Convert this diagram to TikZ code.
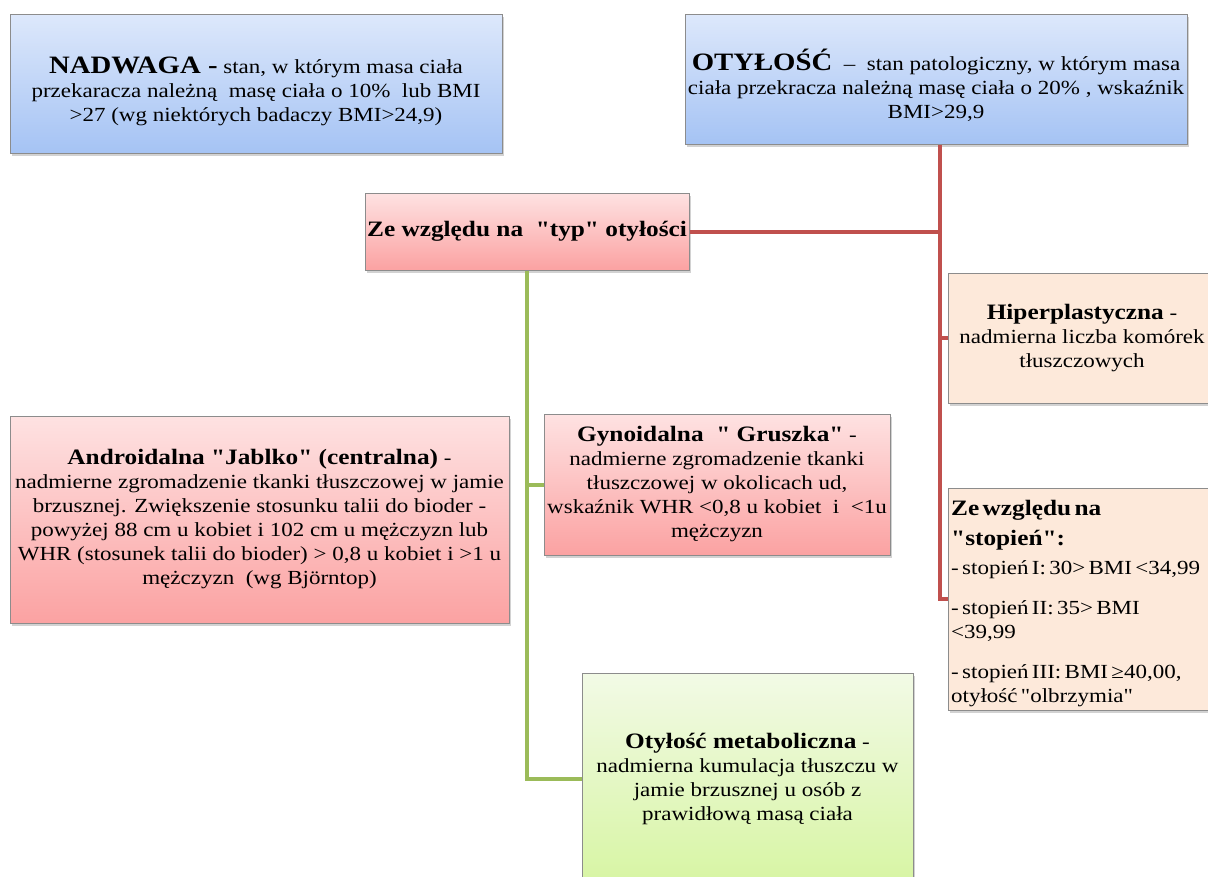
\documentclass[tikz,border=0pt]{standalone}
\usepackage{fontspec}
\setmainfont[FakeStretch=1.15,Ligatures=TeXOff]{Liberation Serif}
\usetikzlibrary{shadows}
\definecolor{bluetop}{HTML}{DDE8FB}
\definecolor{bluebot}{HTML}{A5C3F4}
\definecolor{pinktop}{HTML}{FEE2E2}
\definecolor{pinkbot}{HTML}{FBA2A2}
\definecolor{peach}{HTML}{FDE9DA}
\definecolor{greentop}{HTML}{F2FAE6}
\definecolor{greenbot}{HTML}{D7F5A3}
\definecolor{redln}{HTML}{C0504D}
\definecolor{greenln}{HTML}{9BBB59}
\definecolor{bordergray}{HTML}{8C8C8C}
\begin{document}
\begin{tikzpicture}[x=1pt,y=-1pt,
  box/.style={draw=bordergray, line width=1pt, inner sep=0pt, align=center,
    drop shadow={opacity=0.35, shadow xshift=2pt, shadow yshift=-3pt},
    font=\fontsize{20}{24}\selectfont},
  bluebox/.style={box, top color=bluetop, bottom color=bluebot},
  pinkbox/.style={box, top color=pinktop, bottom color=pinkbot},
  peachbox/.style={box, fill=peach},
  greenbox/.style={box, top color=greentop, bottom color=greenbot},
  boxtext/.style={inner sep=0pt, align=center, font=\fontsize{20}{24}\selectfont},
  redline/.style={draw=redln, line width=4pt},
  greenline/.style={draw=greenln, line width=4pt}
]
\useasboundingbox (0,0) rectangle (1208,876);
\clip (0,0) rectangle (1208,876);
\fill[white] (0,0) rectangle (1208,876);

% top boxes
\node[bluebox, minimum width=492pt, minimum height=139pt] (nad) at (256,83.5) {};
\node[boxtext] (nadtxt) at (256,91)
  {{\fontsize{25}{24}\selectfont\bfseries NADWAGA -} stan, w którym masa ciała\\
   przekaracza należną \ masę ciała o 10\% \ lub BMI\\
   >27 (wg niektórych badaczy BMI>24,9)};
\node[bluebox, minimum width=502pt, minimum height=130pt] (oty) at (936,79) {};
\node[boxtext] (otytxt) at (936,85)
  {{\fontsize{25}{24}\selectfont\bfseries OTYŁOŚĆ} \ – \ stan patologiczny, w którym masa\\
   ciała przekracza należną masę ciała o 20\% , wskaźnik\\
   BMI>29,9};

% type branch
\node[pinkbox, minimum width=324pt, minimum height=77pt] (typ) at (527,231.5)
  {\fontsize{22}{24}\selectfont\bfseries Ze względu na \ "typ" otyłości};
\node[pinkbox, minimum width=499pt, minimum height=207pt] (andr) at (259.5,519.5)
  {{\fontsize{22}{24}\selectfont\bfseries Androidalna "Jablko" (centralna)} -\\
   nadmierne zgromadzenie tkanki tłuszczowej w jamie\\
   brzusznej. Zwiększenie stosunku talii do bioder -\\
   powyżej 88 cm u kobiet i 102 cm u mężczyzn lub\\
   WHR (stosunek talii do bioder) > 0,8 u kobiet i >1 u\\
   mężczyzn \ (wg Björntop)};
\node[pinkbox, minimum width=346pt, minimum height=141pt] (gyn) at (717,484.5)
  {{\fontsize{22}{24}\selectfont\bfseries Gynoidalna \ " Gruszka"} -\\
   nadmierne zgromadzenie tkanki\\
   tłuszczowej w okolicach ud,\\
   wskaźnik WHR <0,8 u kobiet \ i \ <1u\\
   mężczyzn};
\node[greenbox, minimum width=331pt, minimum height=212pt] (met) at (747.5,779)
  {{\fontsize{22}{24}\selectfont\bfseries Otyłość metaboliczna} -\\
   nadmierna kumulacja tłuszczu w\\
   jamie brzusznej u osób z\\
   prawidłową masą ciała};

% degree branch
\node[peachbox, minimum width=268pt, minimum height=130pt] (hip) at (1082,338)
  {{\fontsize{22}{24}\selectfont\bfseries Hiperplastyczna} -\\
   nadmierna liczba komórek\\
   tłuszczowych};
\node[peachbox, minimum width=268pt, minimum height=222pt] (stop) at (1082,599) {};
\node[anchor=north west, inner sep=0pt, text width=320pt, align=left] (stoptxt) at (951,500)
  {\fontsize{22}{30}\selectfont\bfseries Ze względu na\\ "stopień":\par
   \fontsize{20}{24}\selectfont\mdseries\vspace{5pt}
   - stopień I: 30> BMI <34,99\par\vspace{16pt}
   - stopień II: 35> BMI\\ <39,99\par\vspace{16pt}
   - stopień III: BMI ≥40,00,\\ otyłość "olbrzymia"\par};

% connectors
\coordinate (rx) at (940,0);
\draw[redline] (oty.south -| rx) -- (stop.west -| rx) -- (stop.west);
\draw[redline] (typ.east) -- (typ.east -| rx);
\draw[redline] (hip.west -| rx) -- (hip.west);
\draw[greenline] (typ.south) |- (met.west);
\draw[greenline] (typ.south |- gyn.west) -- (gyn.west);
\end{tikzpicture}
\end{document}
